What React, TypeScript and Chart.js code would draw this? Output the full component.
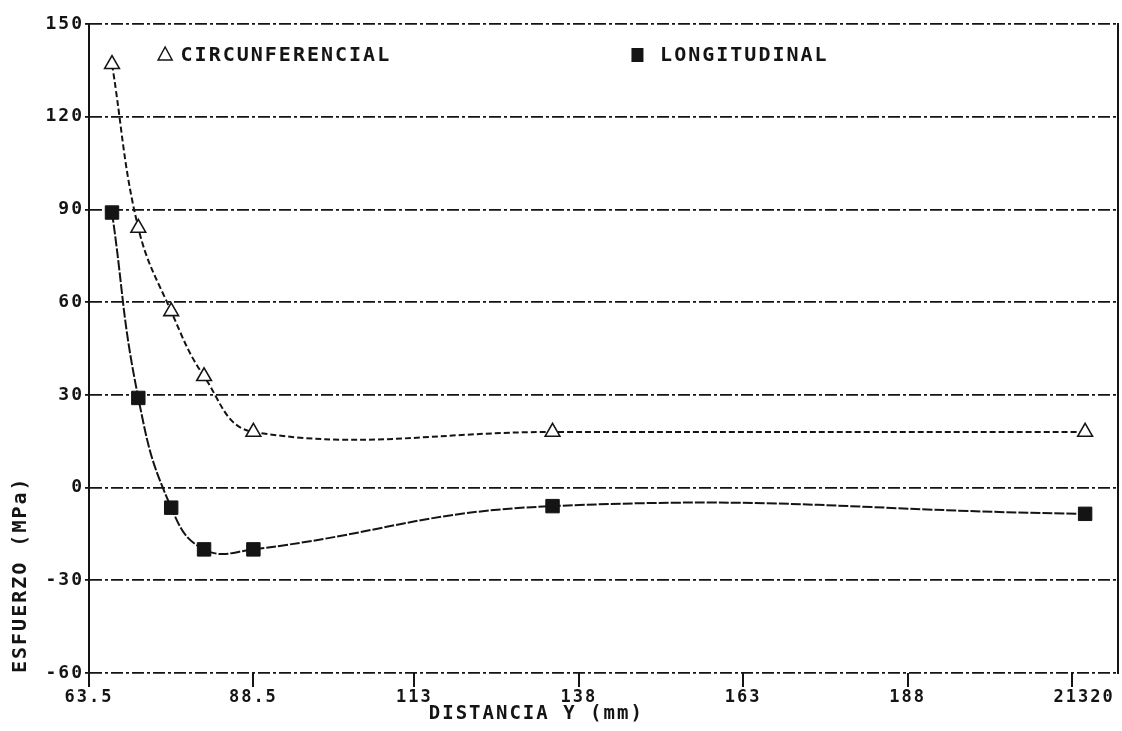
import { useEffect, useRef } from 'react';
import { Chart, registerables } from 'chart.js';

Chart.register(...registerables);

// ---- data ----
const distance = [67, 71, 76, 81, 88.5, 134, 215];
const circunferencial = [137, 84, 57, 36, 18, 18, 18];
const longitudinal = [89, 29, -6.5, -20, -20, -6, -8.5];

const seriesLabels = ['CIRCUNFERENCIAL', 'LONGITUDINAL'];
const xTickValues = [63.5, 88.5, 113, 138, 163, 188, 213];
const xTickLabels = ['63.5', '88.5', '113', '138', '163', '188', '  21320'];
const xTitle = 'DISTANCIA Y (mm)';
const yTitle = 'ESFUERZO (MPa)';

const FONT = '"DejaVu Sans Mono", monospace';
const INK = '#141414';

const spacingPlugin = {
  id: 'letterSpacing',
  beforeUpdate(chart: any) {
    chart.ctx.letterSpacing = '2px';
  },
  beforeDraw(chart: any) {
    chart.ctx.letterSpacing = '2px';
  },
};

const insideLegend = {
  id: 'insideLegend',
  afterDraw(chart: any) {
    const { ctx, chartArea: a } = chart;
    const w = a.right - a.left;
    const y = a.top + 31;
    ctx.save();
    ctx.letterSpacing = '2px';
    ctx.font = `bold 20px ${FONT}`;
    ctx.fillStyle = INK;
    ctx.strokeStyle = INK;
    ctx.textBaseline = 'middle';
    ctx.textAlign = 'left';
    // triangle marker
    const tx = a.left + 0.074 * w;
    ctx.beginPath();
    ctx.moveTo(tx, y - 8);
    ctx.lineTo(tx + 7, y + 5);
    ctx.lineTo(tx - 7, y + 5);
    ctx.closePath();
    ctx.lineWidth = 1.5;
    ctx.stroke();
    ctx.fillText(chart.data.datasets[0].label, a.left + 0.089 * w, y + 1);
    // square marker
    const sx = a.left + 0.533 * w;
    ctx.fillRect(sx - 6, y - 7, 12, 14);
    ctx.fillText(chart.data.datasets[1].label, a.left + 0.555 * w, y + 1);
    ctx.restore();
  },
};

export default function App() {
  const ref = useRef<HTMLCanvasElement | null>(null);

  useEffect(() => {
    if (!ref.current) return;
    const chart = new Chart(ref.current, {
      type: 'line',
      data: {
        datasets: [
          {
            label: seriesLabels[0],
            data: distance.map((x, i) => ({ x, y: circunferencial[i] })),
            borderColor: INK,
            borderWidth: 2,
            borderDash: [6, 3],
            tension: 0.4,
            pointStyle: 'triangle',
            pointRadius: 8.5,
            pointBorderWidth: 1.6,
            pointBorderColor: INK,
            pointBackgroundColor: '#ffffff',
            fill: false,
          },
          {
            label: seriesLabels[1],
            data: distance.map((x, i) => ({ x, y: longitudinal[i] })),
            borderColor: INK,
            borderWidth: 2,
            borderDash: [10, 2],
            tension: 0.45,
            pointStyle: 'rect',
            pointRadius: 9.5,
            pointBorderWidth: 1,
            pointBorderColor: INK,
            pointBackgroundColor: INK,
            fill: false,
          },
        ],
      },
      options: {
        animation: false,
        responsive: true,
        maintainAspectRatio: false,
        layout: { autoPadding: false, padding: { top: 24, right: 4, left: 0, bottom: 0 } },
        plugins: {
          legend: { display: false },
          tooltip: { enabled: false },
          title: { display: false },
        },
        scales: {
          x: {
            type: 'linear',
            min: 63.5,
            max: 220,
            afterBuildTicks: (scale: any) => {
              scale.ticks = xTickValues.map((v) => ({ value: v }));
            },
            afterFit: (scale: any) => {
              scale.height = 58;
              scale.paddingLeft = 0;
              scale.paddingRight = 0;
            },
            ticks: {
              autoSkip: false,
              maxRotation: 0,
              padding: 0,
              color: INK,
              font: { family: FONT, size: 17, weight: 'bold' },
              callback: (_v: any, i: number) => xTickLabels[i],
            },
            grid: {
              display: true,
              drawOnChartArea: false,
              drawTicks: true,
              tickLength: 14,
              lineWidth: 2,
              color: INK,
            },
            border: { display: false },
            title: {
              display: true,
              text: xTitle + '          ',
              color: INK,
              font: { family: FONT, size: 19, weight: 'bold' },
              padding: { top: 0, bottom: 6 },
            },
          },
          y: {
            type: 'linear',
            position: 'left',
            min: -60,
            max: 150,
            afterFit: (scale: any) => {
              scale.width = 89;
            },
            ticks: {
              stepSize: 30,
              padding: 1,
              color: INK,
              font: { family: FONT, size: 18, weight: 'bold' },
            },
            grid: {
              display: true,
              drawOnChartArea: true,
              drawTicks: true,
              tickLength: 4,
              lineWidth: 1.8,
              color: INK,
              tickBorderDash: [],
            },
            border: { display: true, width: 2, color: INK, dash: [12, 3, 3, 3] },
            title: {
              display: true,
              text: yTitle,
              align: 'start',
              color: INK,
              font: { family: FONT, size: 20, weight: 'bold' },
              padding: { top: 9, bottom: 0 },
            },
          },
          y2: {
            type: 'linear',
            position: 'right',
            min: -60,
            max: 150,
            afterFit: (scale: any) => {
              scale.width = 0;
            },
            ticks: { display: false },
            grid: { display: false, drawTicks: false },
            border: { display: true, width: 2, color: INK },
          },
        },
      } as any,
      plugins: [spacingPlugin, insideLegend],
    });
    return () => chart.destroy();
  }, []);

  return (
    <div style={{ position: 'absolute', left: 0, top: 0, width: 1122, height: 731, background: '#ffffff' }}>
      <canvas ref={ref} />
    </div>
  );
}
